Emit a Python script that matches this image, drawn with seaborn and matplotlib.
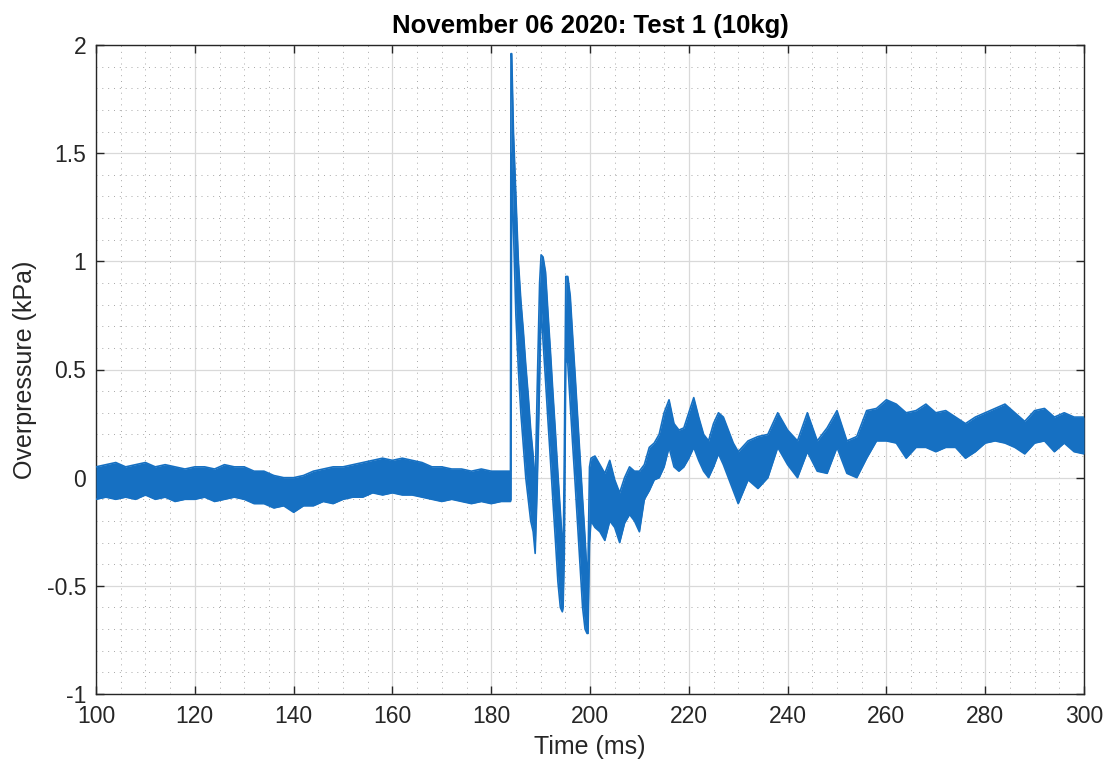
import numpy as np
import pandas as pd
import matplotlib
matplotlib.use("Agg")
import matplotlib.pyplot as plt
import seaborn as sns
from matplotlib.ticker import MultipleLocator

# ---- data (time in ms, envelope of the noisy trace in kPa) ----
time_ms = [
    100, 102, 104, 106, 108, 110, 112, 114, 116, 118, 120, 122, 124, 126, 128, 130,
    132, 134, 136, 138, 140, 142, 144, 146, 148, 150, 152, 154, 156, 158, 160, 162,
    164, 166, 168, 170, 172, 174, 176, 178, 180, 182, 183.9,
    184.0, 184.15, 184.5, 185.0, 185.5, 186.0, 186.5, 187.0, 187.5, 188.0, 188.5, 188.9,
    189.3, 189.8, 190.1, 190.5, 191.0, 191.5, 192.0, 192.5, 193.0, 193.5, 194.0, 194.4,
    194.55, 194.8, 195.1, 195.5, 196.0, 196.5, 197.0, 197.5, 198.0, 198.5, 199.0, 199.4,
    199.6, 199.9, 200.2,
    201, 202, 203, 204, 205, 206, 207, 208, 209, 210, 211, 212, 213, 214, 215, 216,
    217, 218, 219, 220, 221, 222, 223, 224, 225, 226, 227, 228, 229, 230,
    232, 234, 236, 238, 240, 242, 244, 246, 248, 250, 252, 254, 256, 258, 260, 262,
    264, 266, 268, 270, 272, 274, 276, 278, 280, 282, 284, 286, 288, 290, 292, 294,
    296, 298, 300,
]
upper_kpa = [
    0.05, 0.06, 0.07, 0.05, 0.06, 0.07, 0.05, 0.06, 0.05, 0.04, 0.05, 0.05, 0.04, 0.06, 0.05, 0.05,
    0.03, 0.03, 0.01, 0.00, 0.00, 0.01, 0.03, 0.04, 0.05, 0.05, 0.06, 0.07, 0.08, 0.09, 0.08, 0.09,
    0.08, 0.07, 0.05, 0.05, 0.04, 0.04, 0.03, 0.04, 0.03, 0.03, 0.03,
    1.96, 1.96, 1.60, 1.30, 1.00, 0.82, 0.68, 0.52, 0.38, 0.22, 0.10, -0.05,
    0.40, 0.90, 1.03, 1.02, 0.95, 0.76, 0.58, 0.39, 0.21, 0.02, -0.16, -0.30,
    -0.40, 0.10, 0.93, 0.93, 0.84, 0.65, 0.47, 0.28, 0.09, -0.10, -0.28, -0.45,
    -0.40, 0.05, 0.09,
    0.10, 0.06, 0.02, 0.08, -0.01, -0.07, 0.00, 0.05, 0.03, 0.03, 0.06, 0.14, 0.16, 0.20, 0.30, 0.36,
    0.25, 0.22, 0.23, 0.30, 0.37, 0.28, 0.20, 0.17, 0.25, 0.30, 0.28, 0.22, 0.16, 0.12,
    0.17, 0.19, 0.20, 0.30, 0.22, 0.17, 0.30, 0.17, 0.23, 0.31, 0.17, 0.19, 0.31, 0.32, 0.36, 0.34,
    0.30, 0.31, 0.34, 0.30, 0.31, 0.28, 0.25, 0.28, 0.30, 0.32, 0.34, 0.30, 0.26, 0.31, 0.32, 0.28,
    0.30, 0.28, 0.28,
]
lower_kpa = [
    -0.10, -0.09, -0.10, -0.09, -0.10, -0.08, -0.10, -0.09, -0.11, -0.10, -0.10, -0.09, -0.11, -0.10, -0.09, -0.10,
    -0.12, -0.12, -0.14, -0.13, -0.16, -0.13, -0.13, -0.11, -0.12, -0.10, -0.09, -0.09, -0.07, -0.08, -0.07, -0.08,
    -0.08, -0.09, -0.10, -0.11, -0.10, -0.11, -0.12, -0.11, -0.12, -0.11, -0.11,
    -0.10, 1.50, 1.15, 0.75, 0.50, 0.30, 0.15, 0.00, -0.10, -0.20, -0.25, -0.35,
    -0.05, 0.45, 0.80, 0.63, 0.45, 0.26, 0.08, -0.11, -0.29, -0.48, -0.60, -0.62,
    -0.60, -0.35, 0.55, 0.53, 0.34, 0.15, -0.03, -0.22, -0.41, -0.60, -0.70, -0.72,
    -0.72, -0.30, -0.20,
    -0.23, -0.25, -0.29, -0.20, -0.23, -0.30, -0.21, -0.17, -0.20, -0.25, -0.10, -0.06, -0.01, 0.00, 0.05, 0.14,
    0.05, 0.03, 0.05, 0.09, 0.14, 0.08, 0.03, 0.00, 0.05, 0.11, 0.06, 0.00, -0.06, -0.12,
    -0.01, -0.05, 0.00, 0.14, 0.06, 0.00, 0.12, 0.03, 0.02, 0.14, 0.02, 0.00, 0.09, 0.17, 0.17, 0.16,
    0.09, 0.14, 0.14, 0.12, 0.14, 0.14, 0.09, 0.12, 0.16, 0.17, 0.16, 0.14, 0.11, 0.16, 0.17, 0.12,
    0.16, 0.12, 0.11,
]

x_ticks = [100, 120, 140, 160, 180, 200, 220, 240, 260, 280, 300]
x_tick_labels = ["100", "120", "140", "160", "180", "200", "220", "240", "260", "280", "300"]
y_ticks = [-1, -0.5, 0, 0.5, 1, 1.5, 2]
y_tick_labels = ["-1", "-0.5", "0", "0.5", "1", "1.5", "2"]

title_text = "November 06 2020: Test 1 (10kg)"
x_label = "Time (ms)"
y_label = "Overpressure (kPa)"

# ---- styling ----
sns.set_theme(style="ticks")
plt.rcParams["font.family"] = ["Liberation Sans", "DejaVu Sans"]

line_color = "#1670C2"
ink = "#262626"

df = pd.DataFrame({"t": time_ms, "hi": upper_kpa, "lo": lower_kpa})

fig = plt.figure(figsize=(11.12, 7.69), dpi=100)
ax = fig.add_axes([96 / 1112, 1 - 694 / 769, (1084 - 96) / 1112, (694 - 45) / 769])

ax.fill_between(df["t"], df["lo"], df["hi"], color=line_color, linewidth=0, zorder=3)
sns.lineplot(data=df, x="t", y="hi", ax=ax, color=line_color, linewidth=1.2,
             estimator=None, sort=False, zorder=3)
sns.lineplot(data=df, x="t", y="lo", ax=ax, color=line_color, linewidth=1.2,
             estimator=None, sort=False, zorder=3)

ax.set_xlim(100, 300)
ax.set_ylim(-1, 2)
ax.set_xticks(x_ticks)
ax.set_xticklabels(x_tick_labels)
ax.set_yticks(y_ticks)
ax.set_yticklabels(y_tick_labels)
ax.xaxis.set_minor_locator(MultipleLocator(5))
ax.yaxis.set_minor_locator(MultipleLocator(0.1))

ax.grid(which="major", color="#d9d9d9", linewidth=0.9, linestyle="-", zorder=0)
ax.grid(which="minor", color="#a8a8a8", linewidth=0.7, linestyle=(0, (1, 5)), zorder=0)
ax.set_axisbelow(True)

ax.tick_params(which="major", direction="in", length=6, width=1.0, color=ink,
               top=True, right=True, labelsize=16.5, labelcolor=ink)
ax.tick_params(axis="x", which="major", pad=8)
ax.tick_params(axis="y", which="major", pad=7)
ax.tick_params(which="minor", length=0, top=True, right=True)
for s in ax.spines.values():
    s.set_visible(True)
    s.set_color(ink)
    s.set_linewidth(1.0)

ax.set_xlabel(x_label, fontsize=18, color=ink, labelpad=5)
ax.set_ylabel(y_label, fontsize=18, color=ink, labelpad=7)
ax.set_title(title_text, fontsize=18.5, fontweight="bold", color="#000000", pad=9)

fig.savefig("out.png", dpi=100)
